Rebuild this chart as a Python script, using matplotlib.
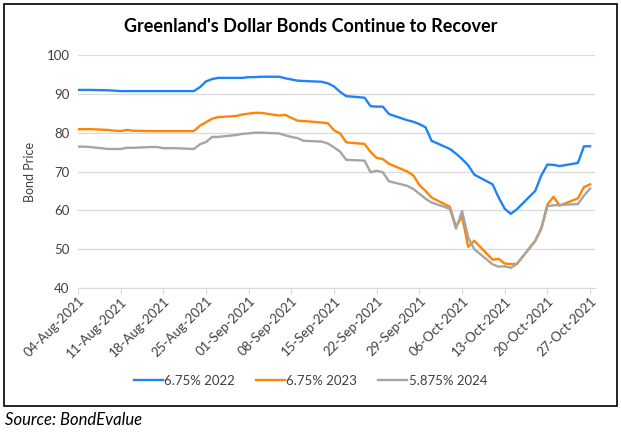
import pandas as pd
import matplotlib.pyplot as plt
import matplotlib.dates as mdates
from matplotlib.patches import Rectangle

# 데이터 (영업일 기준)
dates = pd.bdate_range('2021-08-04', '2021-10-27')

bond_2022 = [91.0, 91.0, 91.0, 90.9, 90.8, 90.7, 90.7, 90.7, 90.7, 90.7, 90.7, 90.7, 90.7,
             90.7, 91.7, 93.2, 93.8, 94.1, 94.1, 94.1, 94.3, 94.3, 94.4, 94.4, 94.0, 93.7,
             93.4, 93.3, 93.1, 92.7, 91.9, 90.5, 89.4, 89.0, 86.8, 86.7, 86.7, 84.8, 83.2,
             82.8, 82.2, 81.4, 77.9, 75.8, 74.6, 73.2, 71.6, 69.2, 66.7, 63.3, 60.4, 59.1,
             60.3, 65.0, 69.0, 71.8, 71.7, 71.4, 72.2, 76.5, 76.5]
bond_2023 = [80.9, 80.9, 80.9, 80.7, 80.5, 80.4, 80.7, 80.5, 80.4, 80.4, 80.4, 80.4, 80.4,
             80.4, 81.8, 82.7, 83.6, 84.0, 84.3, 84.7, 84.9, 85.1, 85.1, 84.4, 84.6, 83.8,
             83.1, 83.0, 82.6, 82.4, 80.6, 79.8, 77.5, 77.1, 75.0, 73.5, 73.2, 72.0, 70.0,
             69.0, 66.5, 65.0, 63.3, 60.9, 55.8, 58.4, 50.6, 52.2, 47.3, 47.5, 46.3, 46.2,
             46.2, 52.2, 55.5, 61.5, 63.5, 61.2, 63.1, 66.0, 66.7]
bond_2024 = [76.4, 76.4, 76.3, 75.8, 75.8, 75.8, 76.1, 76.1, 76.3, 76.3, 76.0, 76.0, 76.0,
             75.8, 77.0, 77.6, 78.9, 78.9, 79.4, 79.7, 79.8, 80.0, 80.0, 79.8, 79.3, 78.9,
             78.6, 77.9, 77.7, 77.2, 76.2, 75.1, 73.0, 72.8, 69.8, 70.2, 69.8, 67.5, 66.3,
             65.5, 64.3, 63.0, 62.0, 60.4, 55.3, 59.8, 53.0, 50.0, 46.1, 45.5, 45.6, 45.2,
             46.2, 52.1, 55.2, 61.1, 61.3, 61.4, 61.6, 63.8, 65.6]

series = [
    ('6.75% 2022', bond_2022, '#1f82f7'),
    ('6.75% 2023', bond_2023, '#ff8505'),
    ('5.875% 2024', bond_2024, '#a5a5a5'),
]

tick_dates = pd.date_range('2021-08-04', '2021-10-27', freq='7D')

plt.rcParams['font.family'] = ['Lato', 'DejaVu Sans']

fig = plt.figure(figsize=(6.21, 4.36), dpi=100)
ax = fig.add_axes([0.1256, 0.3394, 0.8325, 0.5345])

# 바깥 테두리
fig.patches.append(Rectangle((4 / 621, 1 - 406 / 436), 613 / 621, 402 / 436,
                             transform=fig.transFigure, fill=False,
                             edgecolor='black', linewidth=1.2))

for label, values, color in series:
    ax.plot(dates, values, color=color, linewidth=1.7, label=label)

ax.set_ylim(40, 100)
ax.set_yticks(range(40, 101, 10))
ax.set_xlim(pd.Timestamp('2021-08-04'), pd.Timestamp('2021-08-04') + pd.Timedelta(days=84.8))
ax.set_xticks(tick_dates)
ax.xaxis.set_major_formatter(mdates.DateFormatter('%d-%b-%Y'))

ax.grid(axis='y', color='#d9d9d9', linewidth=0.9)
ax.set_axisbelow(True)
for side in ['top', 'right', 'left']:
    ax.spines[side].set_visible(False)
ax.spines['bottom'].set_color('#d9d9d9')
ax.tick_params(axis='y', length=0, labelsize=9.5, labelcolor='#404040', pad=6)
ax.tick_params(axis='x', length=4, color='#d9d9d9', labelsize=9.5, labelcolor='#404040', pad=1)
plt.setp(ax.get_xticklabels(), rotation=45, ha='right', rotation_mode='anchor')

ax.set_ylabel('Bond Price', fontsize=9, color='#404040', labelpad=8)

fig.text(0.5, 1 - 27 / 436, "Greenland's Dollar Bonds Continue to Recover",
         ha='center', va='center', fontsize=13, fontweight='bold')

ax.legend(loc='center', bbox_to_anchor=(0.5, 1 - 381 / 436), bbox_transform=fig.transFigure,
          ncol=3, frameon=False, fontsize=9.5, handlelength=2.2, handletextpad=0.1,
          columnspacing=1.6, labelcolor='#404040')

fig.text(5 / 621, 1 - 420 / 436, 'Source: BondEvalue', ha='left', va='center',
         fontsize=12, style='italic')

plt.savefig('out.png', dpi=100)
